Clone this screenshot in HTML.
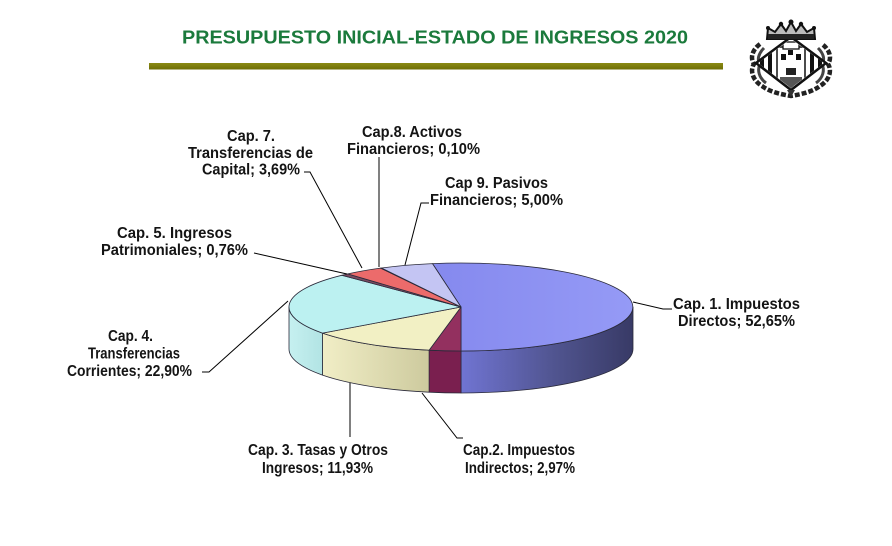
<!DOCTYPE html>
<html>
<head>
<meta charset="utf-8">
<style>
  html,body{margin:0;padding:0;background:#fff;}
  svg{display:block;}
  text{font-family:"Liberation Sans",Arial,sans-serif;}
  .lb{font-size:15.5px;font-weight:bold;fill:#141414;}
</style>
</head>
<body>
<svg width="892" height="546" viewBox="0 0 892 546" xmlns="http://www.w3.org/2000/svg">
  <defs>
    <linearGradient id="g1" gradientUnits="userSpaceOnUse" x1="461" y1="0" x2="633" y2="0">
      <stop offset="0" stop-color="#7074d2"/>
      <stop offset="0.55" stop-color="#50548f"/>
      <stop offset="1" stop-color="#383a66"/>
    </linearGradient>
    <linearGradient id="g3" gradientUnits="userSpaceOnUse" x1="322" y1="0" x2="429" y2="0">
      <stop offset="0" stop-color="#f1eec6"/>
      <stop offset="1" stop-color="#cdca9e"/>
    </linearGradient>
    <linearGradient id="g4" gradientUnits="userSpaceOnUse" x1="289" y1="0" x2="322" y2="0">
      <stop offset="0" stop-color="#c6f0f0"/>
      <stop offset="1" stop-color="#b2e4e4"/>
    </linearGradient>
    <linearGradient id="gt1" gradientUnits="userSpaceOnUse" x1="432" y1="0" x2="633" y2="0">
      <stop offset="0" stop-color="#8589ee"/>
      <stop offset="1" stop-color="#959af6"/>
    </linearGradient>
    <linearGradient id="gbar" x1="0" y1="0" x2="0" y2="1">
      <stop offset="0" stop-color="#8a8a14"/>
      <stop offset="1" stop-color="#6f6f06"/>
    </linearGradient>
  </defs>

  <rect width="892" height="546" fill="#fff"/>

  <!-- Title -->
  <text x="182" y="43.5" font-size="18.5" font-weight="bold" fill="#1b7a3c" textLength="506" lengthAdjust="spacingAndGlyphs">PRESUPUESTO INICIAL-ESTADO DE INGRESOS 2020</text>
  <rect x="149" y="63" width="574" height="6.5" fill="url(#gbar)"/>

  <!-- Logo (coat of arms) -->
  <g>
    <path d="M760,44 C752,50 750,58 754,64 C750,70 752,80 762,86 C770,92 780,94 791,96 C802,94 812,92 820,86 C830,80 832,70 828,64 C832,58 830,50 822,44"
          fill="none" stroke="#222" stroke-width="4.5" stroke-dasharray="5 2"/>
    <path d="M764,48 C758,54 757,60 760,64 C757,70 759,78 766,83" fill="none" stroke="#444" stroke-width="3"/>
    <path d="M818,48 C824,54 825,60 822,64 C825,70 823,78 816,83" fill="none" stroke="#444" stroke-width="3"/>
    <polygon points="791,37 826,63 791,90 756,63" fill="#fff" stroke="#111" stroke-width="2.5"/>
    <clipPath id="dc"><polygon points="791,39 824,63 791,88 758,63"/></clipPath>
    <g clip-path="url(#dc)">
      <rect x="760" y="40" width="4" height="50" fill="#111"/>
      <rect x="768" y="40" width="4" height="50" fill="#111"/>
      <rect x="810" y="40" width="4" height="50" fill="#111"/>
      <rect x="818" y="40" width="4" height="50" fill="#111"/>
      <rect x="777" y="47" width="28" height="40" fill="#fff" stroke="#111" stroke-width="1.5"/>
      <rect x="783" y="42" width="16" height="7" fill="#fff" stroke="#111" stroke-width="1.3"/>
      <rect x="781" y="54" width="5" height="6" fill="#111"/>
      <rect x="796" y="54" width="5" height="6" fill="#111"/>
      <rect x="788" y="50" width="5" height="5" fill="#111"/>
      <rect x="786" y="68" width="10" height="7" fill="#222"/>
      <rect x="780" y="77" width="22" height="10" fill="#555"/>
    </g>
    <path d="M767,39 L768,28 L775,32 L781,24 L786,31 L791,22 L796,31 L801,24 L807,32 L814,28 L815,39 Z" fill="#bbb" stroke="#111" stroke-width="2"/>
    <rect x="768" y="34" width="46" height="5" fill="#222"/>
    <circle cx="791" cy="22" r="2.5" fill="#111"/>
    <circle cx="781" cy="24" r="2.2" fill="#111"/>
    <circle cx="801" cy="24" r="2.2" fill="#111"/>
    <circle cx="768" cy="28" r="2" fill="#111"/>
    <circle cx="814" cy="28" r="2" fill="#111"/>
    <path d="M787,90 L791,97 L795,90" fill="#333"/>
  </g>

  <!-- Pie sides -->
  <g stroke="#2a2a3a" stroke-width="0.8" stroke-linejoin="round">
    <path d="M633,307 A172,44 0 0 1 461,351 L461,393 A172,44 0 0 0 633,349 Z" fill="url(#g1)"/>
    <path d="M461,351 A172,44 0 0 1 429.1,350.2 L429.1,392.2 A172,44 0 0 0 461,393 Z" fill="#7a1f4f"/>
    <path d="M429.1,350.2 A172,44 0 0 1 322.5,333.1 L322.5,375.1 A172,44 0 0 0 429.1,392.2 Z" fill="url(#g3)"/>
    <path d="M322.5,333.1 A172,44 0 0 1 289,307 L289,349 A172,44 0 0 0 322.5,375.1 Z" fill="url(#g4)"/>
  </g>

  <!-- Pie tops -->
  <g stroke="#2a2a3a" stroke-width="0.8" stroke-linejoin="round">
    <path d="M461,307 L432.5,263.6 A172,44 0 1 1 461,351 Z" fill="url(#gt1)"/>
    <path d="M461,307 L461,351 A172,44 0 0 1 429.1,350.2 Z" fill="#93305f"/>
    <path d="M461,307 L429.1,350.2 A172,44 0 0 1 322.5,333.1 Z" fill="#f2f0c4"/>
    <path d="M461,307 L322.5,333.1 A172,44 0 0 1 341.7,275.3 Z" fill="#bcf1f1"/>
    <path d="M461,307 L341.7,275.3 A172,44 0 0 1 347.7,273.9 Z" fill="#7a4a60"/>
    <path d="M461,307 L347.7,273.9 A172,44 0 0 1 380.5,268.1 Z" fill="#ec6b6b"/>
    <path d="M461,307 L380.5,268.1 A172,44 0 0 1 381.5,268.0 Z" fill="#d0d0d0"/>
    <path d="M461,307 L381.5,268.0 A172,44 0 0 1 432.5,263.6 Z" fill="#c4c5f3"/>
  </g>

  <!-- Leader lines -->
  <g stroke="#000" stroke-width="1" fill="none">
    <polyline points="672,309 663,309 633,302"/>
    <polyline points="463,438 457,438 422,393"/>
    <polyline points="350,437 350,383"/>
    <polyline points="202,372 209,372 288,301"/>
    <polyline points="254,253 347,274"/>
    <polyline points="304,172 310,172 362,268"/>
    <polyline points="379,157 379,267"/>
    <polyline points="429,203 421,203 405,265"/>
  </g>

  <!-- Labels -->
  <g class="lb" text-anchor="middle">
    <text class="lb" x="251" y="141" textLength="48" lengthAdjust="spacingAndGlyphs">Cap. 7.</text>
    <text class="lb" x="250.5" y="158" textLength="125" lengthAdjust="spacingAndGlyphs">Transferencias de</text>
    <text class="lb" x="251" y="174.5" textLength="98" lengthAdjust="spacingAndGlyphs">Capital; 3,69%</text>

    <text class="lb" x="412" y="137" textLength="100" lengthAdjust="spacingAndGlyphs">Cap.8. Activos</text>
    <text class="lb" x="413.5" y="154" textLength="133" lengthAdjust="spacingAndGlyphs">Financieros; 0,10%</text>

    <text class="lb" x="496.5" y="188" textLength="103" lengthAdjust="spacingAndGlyphs">Cap 9. Pasivos</text>
    <text class="lb" x="496.5" y="205" textLength="133" lengthAdjust="spacingAndGlyphs">Financieros; 5,00%</text>

    <text class="lb" x="174.5" y="238" textLength="115" lengthAdjust="spacingAndGlyphs">Cap. 5. Ingresos</text>
    <text class="lb" x="174.5" y="255" textLength="147" lengthAdjust="spacingAndGlyphs">Patrimoniales; 0,76%</text>

    <text class="lb" x="130.5" y="341" textLength="45" lengthAdjust="spacingAndGlyphs">Cap. 4.</text>
    <text class="lb" x="134" y="358.5" textLength="92" lengthAdjust="spacingAndGlyphs">Transferencias</text>
    <text class="lb" x="129.5" y="376" textLength="125" lengthAdjust="spacingAndGlyphs">Corrientes; 22,90%</text>

    <text class="lb" x="318" y="455" textLength="140" lengthAdjust="spacingAndGlyphs">Cap. 3. Tasas y Otros</text>
    <text class="lb" x="317.5" y="473" textLength="111" lengthAdjust="spacingAndGlyphs">Ingresos; 11,93%</text>

    <text class="lb" x="519" y="455" textLength="112" lengthAdjust="spacingAndGlyphs">Cap.2. Impuestos</text>
    <text class="lb" x="520" y="473" textLength="110" lengthAdjust="spacingAndGlyphs">Indirectos; 2,97%</text>

    <text class="lb" x="736.5" y="309" textLength="127" lengthAdjust="spacingAndGlyphs">Cap. 1. Impuestos</text>
    <text class="lb" x="736.5" y="326" textLength="117" lengthAdjust="spacingAndGlyphs">Directos; 52,65%</text>
  </g>
</svg>
</body>
</html>
